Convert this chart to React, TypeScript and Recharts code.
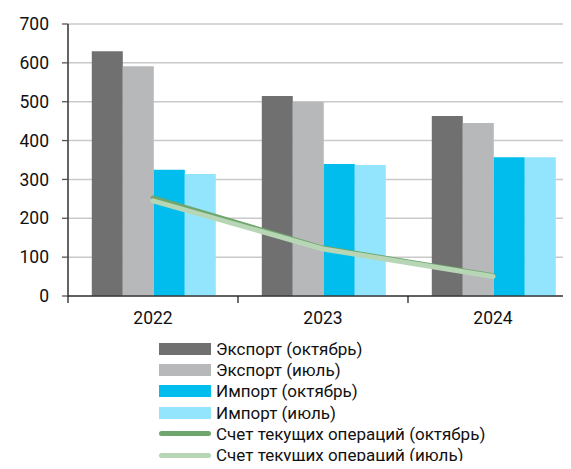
import React from 'react';
import { ComposedChart, Bar, Line, XAxis, YAxis, CartesianGrid, Legend } from 'recharts';

const years = ['2022', '2023', '2024'];
const exportOct = [630, 515, 463];
const exportJul = [591, 499, 445];
const importOct = [325, 340, 357];
const importJul = [314, 337, 357];
const caOct = [253, 124, 53];
const caJul = [245, 121, 50];
const yTicks = [0, 100, 200, 300, 400, 500, 600, 700];

const seriesNames = {
  exportOct: 'Экспорт (октябрь)',
  exportJul: 'Экспорт (июль)',
  importOct: 'Импорт (октябрь)',
  importJul: 'Импорт (июль)',
  caOct: 'Счет текущих операций (октябрь)',
  caJul: 'Счет текущих операций (июль)',
};

const colors = {
  exportOct: '#6f706f',
  exportJul: '#b7b8ba',
  importOct: '#00bdee',
  importJul: '#93e5fd',
  caOct: '#6fa66d',
  caJul: '#b6d6b6',
};

const data = years.map((y, i) => ({
  year: y,
  exportOct: exportOct[i],
  exportJul: exportJul[i],
  importOct: importOct[i],
  importJul: importJul[i],
  caOct: caOct[i],
  caJul: caJul[i],
}));

const FONT = 'Roboto, "Noto Sans", sans-serif';

const XTick = (props: any) => {
  const { x, y, payload } = props;
  const off = payload && payload.offset ? payload.offset : 0;
  return (
    <g>
      <line x1={x - off} x2={x - off} y1={y - 8} y2={y - 1} stroke="#222" strokeWidth={1.3} />
      <text x={x} y={y + 20} textAnchor="middle" fill="#111" fontSize={17.5} fontFamily={FONT}>
        {payload.value}
      </text>
    </g>
  );
};

const keys = ['exportOct', 'exportJul', 'importOct', 'importJul', 'caOct', 'caJul'] as const;

const LegendContent = () => (
  <div style={{ fontFamily: FONT, fontSize: 17, color: '#111' }}>
    {keys.map((k) => {
      const isLine = k.startsWith('ca');
      return (
        <div key={k} style={{ display: 'flex', alignItems: 'center', height: 21.3, whiteSpace: 'nowrap' }}>
          <div style={{ width: 52, height: 21.3, display: 'flex', alignItems: 'center', justifyContent: 'center' }}>
            <div
              style={{
                width: 52,
                height: isLine ? 5 : 12,
                background: colors[k],
                borderRadius: isLine ? 3 : 0,
              }}
            />
          </div>
          <span style={{ marginLeft: 5 }}>{seriesNames[k]}</span>
        </div>
      );
    })}
  </div>
);

export default function App() {
  return (
    <div style={{ margin: -8, width: 571, height: 469, overflow: 'hidden', background: '#fff', fontFamily: FONT }}>
      <ComposedChart
        width={579}
        height={469}
        data={data}
        margin={{ top: 24, right: 1, left: 0, bottom: 143 }}
        barCategoryGap="14%"
        barGap={0}
      >
        <CartesianGrid vertical={false} stroke="#c9c9c9" strokeWidth={1.5} />
        <XAxis
          dataKey="year"
          height={30}
          axisLine={{ stroke: '#3a3a3a', strokeWidth: 1.5 }}
          tickLine={false}
          tick={<XTick />}
          interval={0}
        />
        <YAxis
          width={68}
          domain={[0, 700]}
          ticks={yTicks}
          interval={0}
          axisLine={{ stroke: '#111', strokeWidth: 1.3 }}
          tickLine={{ stroke: '#555', strokeWidth: 1.3 }}
          tickSize={6}
          tickMargin={13}
          tick={{ fill: '#111', fontSize: 17.5, fontFamily: FONT }}
        />
        <Bar dataKey="exportOct" name={seriesNames.exportOct} fill={colors.exportOct} isAnimationActive={false} />
        <Bar dataKey="exportJul" name={seriesNames.exportJul} fill={colors.exportJul} isAnimationActive={false} />
        <Bar dataKey="importOct" name={seriesNames.importOct} fill={colors.importOct} isAnimationActive={false} />
        <Bar dataKey="importJul" name={seriesNames.importJul} fill={colors.importJul} isAnimationActive={false} />
        <Line
          type="linear"
          dataKey="caOct"
          name={seriesNames.caOct}
          stroke={colors.caOct}
          strokeWidth={4.5}
          strokeLinecap="round"
          strokeLinejoin="round"
          dot={false}
          activeDot={false}
          isAnimationActive={false}
        />
        <Line
          type="linear"
          dataKey="caJul"
          name={seriesNames.caJul}
          stroke={colors.caJul}
          strokeWidth={5}
          strokeLinecap="round"
          strokeLinejoin="round"
          dot={false}
          activeDot={false}
          isAnimationActive={false}
        />
        <Legend
          layout="vertical"
          align="center"
          verticalAlign="middle"
          content={<LegendContent />}
          wrapperStyle={{ top: 338, left: 159, width: 360, right: 'auto', bottom: 'auto' }}
        />
      </ComposedChart>
    </div>
  );
}
